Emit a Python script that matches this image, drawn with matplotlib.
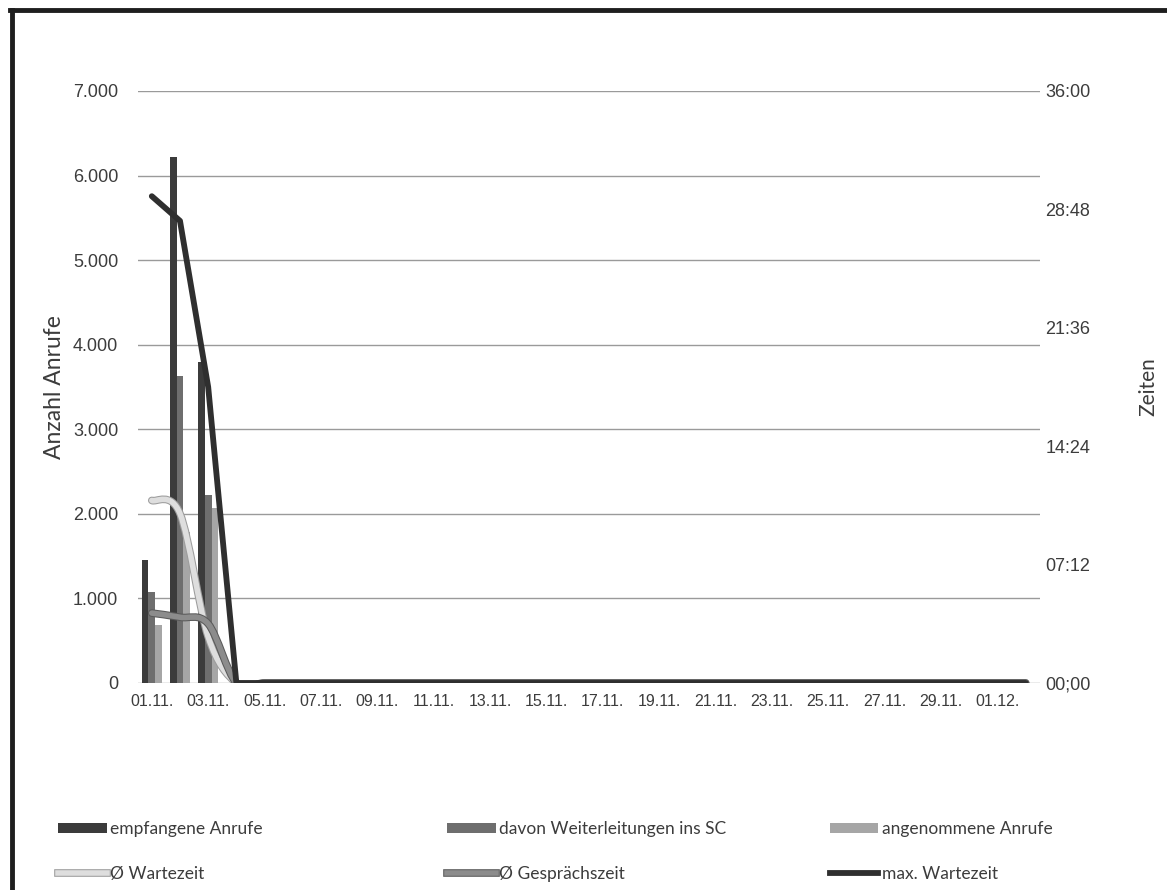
import matplotlib
matplotlib.use("Agg")
import matplotlib.pyplot as plt
import numpy as np
from matplotlib.path import Path
from matplotlib.patches import PathPatch, Patch
from matplotlib.lines import Line2D
import matplotlib.patheffects as pe

# ---- data -------------------------------------------------------------
dates = ["01.11.", "02.11.", "03.11.", "04.11.", "05.11.", "06.11.", "07.11.", "08.11.",
         "09.11.", "10.11.", "11.11.", "12.11.", "13.11.", "14.11.", "15.11.", "16.11.",
         "17.11.", "18.11.", "19.11.", "20.11.", "21.11.", "22.11.", "23.11.", "24.11.",
         "25.11.", "26.11.", "27.11.", "28.11.", "29.11.", "30.11.", "01.12.", "02.12."]

empfangene = [1450, 6220, 3800, 0, 0, 0, 0, 0, 0, 0, 0, 0, 0, 0, 0, 0,
              0, 0, 0, 0, 0, 0, 0, 0, 0, 0, 0, 0, 0, 0, 0, 0]
weiterleitungen = [1070, 3630, 2220, 0, 0, 0, 0, 0, 0, 0, 0, 0, 0, 0, 0, 0,
                   0, 0, 0, 0, 0, 0, 0, 0, 0, 0, 0, 0, 0, 0, 0, 0]
angenommene = [680, 1790, 2070, 0, 0, 0, 0, 0, 0, 0, 0, 0, 0, 0, 0, 0,
               0, 0, 0, 0, 0, 0, 0, 0, 0, 0, 0, 0, 0, 0, 0, 0]

# times in minutes
wartezeit_avg = [11.1, 10.3, 2.8, 0, 0, 0, 0, 0, 0, 0, 0, 0, 0, 0, 0, 0,
                 0, 0, 0, 0, 0, 0, 0, 0, 0, 0, 0, 0, 0, 0, 0, 0]
gespraechszeit_avg = [4.25, 4.0, 3.6, 0, 0, 0, 0, 0, 0, 0, 0, 0, 0, 0, 0, 0,
                      0, 0, 0, 0, 0, 0, 0, 0, 0, 0, 0, 0, 0, 0, 0, 0]
wartezeit_max = [29.6, 28.1, 18.0, 0, 0, 0, 0, 0, 0, 0, 0, 0, 0, 0, 0, 0,
                 0, 0, 0, 0, 0, 0, 0, 0, 0, 0, 0, 0, 0, 0, 0, 0]

left_ticks = [0, 1000, 2000, 3000, 4000, 5000, 6000, 7000]
left_ticklabels = ["0", "1.000", "2.000", "3.000", "4.000", "5.000", "6.000", "7.000"]
right_ticks = [0, 7.2, 14.4, 21.6, 28.8, 36]
right_ticklabels = ["00;00", "07:12", "14:24", "21:36", "28:48", "36:00"]

# ---- styling ----------------------------------------------------------
TICK_FONT = "Liberation Sans"
TEXT_FONT = "Lato"
TXT = "#3c3c3c"

c_empf = "#3b3b3b"
c_weit = "#6e6e6e"
c_ang = "#a6a6a6"
c_wz = "#dedede"
c_gz = "#8c8c8c"
c_max = "#2f2f2f"

fig = plt.figure(figsize=(11.67, 8.90), dpi=100)
ax = fig.add_axes([0.118, 0.2326, 0.773, 0.6652])
ax2 = ax.twinx()

x = np.arange(len(dates))
bw = 0.237
ax.bar(x - bw, empfangene, bw, color=c_empf, zorder=2)
ax.bar(x, weiterleitungen, bw, color=c_weit, zorder=2)
ax.bar(x + bw, angenommene, bw, color=c_ang, zorder=2)

ax.set_xlim(-0.5, len(dates) - 0.5)
ax.set_ylim(0, 7000)
ax.set_yticks(left_ticks)
ax.set_yticklabels(left_ticklabels, fontfamily=TICK_FONT, fontsize=13, color=TXT)
ax.yaxis.grid(True, color="#9a9a9a", lw=1.0, zorder=0)
ax.set_axisbelow(True)
ax.set_xticks(x[::2])
ax.set_xticklabels(dates[::2], fontfamily=TICK_FONT, fontsize=11.5, color=TXT)
ax.tick_params(axis="both", length=0)
ax.tick_params(axis="y", pad=14)
ax.tick_params(axis="x", pad=8)
for s in ax.spines.values():
    s.set_visible(False)
for s in ax2.spines.values():
    s.set_visible(False)
ax.set_ylabel("Anzahl Anrufe", fontfamily=TEXT_FONT, fontsize=16.5, color=TXT, labelpad=6)

ax2.set_ylim(0, 36)
ax2.set_yticks(right_ticks)
ax2.set_yticklabels(right_ticklabels, fontfamily=TICK_FONT, fontsize=13, color=TXT)
ax2.tick_params(axis="y", length=0, pad=4)
ax2.set_ylabel("Zeiten", fontfamily=TEXT_FONT, fontsize=15, color=TXT, labelpad=34)


def smooth_path(xs, ys):
    """Cubic Bezier path through the points (Catmull-Rom style tangents)."""
    pts = np.column_stack([xs, ys]).astype(float)
    n = len(pts)
    verts = [pts[0]]
    codes = [Path.MOVETO]
    for i in range(n - 1):
        p0 = pts[i - 1] if i > 0 else pts[i]
        p1 = pts[i]
        p2 = pts[i + 1]
        p3 = pts[i + 2] if i + 2 < n else pts[i + 1]
        c1 = p1 + (p2 - p0) / 6.0
        c2 = p2 - (p3 - p1) / 6.0
        verts += [c1, c2, p2]
        codes += [Path.CURVE4] * 3
    return Path(verts, codes)


wz_fx = [pe.Stroke(linewidth=5.5, foreground="#9c9c9c"), pe.Normal()]
gz_fx = [pe.Stroke(linewidth=5.5, foreground="#5a5a5a"), pe.Normal()]
wz = PathPatch(smooth_path(x, wartezeit_avg), fill=False, edgecolor=c_wz, lw=4,
               capstyle="round", joinstyle="round", zorder=4, path_effects=wz_fx)
gz = PathPatch(smooth_path(x, gespraechszeit_avg), fill=False, edgecolor=c_gz, lw=4,
               capstyle="round", joinstyle="round", zorder=5, path_effects=gz_fx)
ax2.add_patch(wz)
ax2.add_patch(gz)
ax2.plot(x, wartezeit_max, color=c_max, lw=4.2, solid_capstyle="round",
         solid_joinstyle="round", zorder=6)

# ---- legend -----------------------------------------------------------
row1, row2 = 0.0685, 0.0180
col1, col2, col3 = 0.0497, 0.383, 0.711
entries = [
    (Patch(facecolor=c_empf), "empfangene Anrufe", col1, row1),
    (Patch(facecolor=c_weit), "davon Weiterleitungen ins SC", col2, row1),
    (Patch(facecolor=c_ang), "angenommene Anrufe", col3, row1),
    (Line2D([], [], color=c_wz, lw=4, path_effects=wz_fx), "Ø Wartezeit", col1, row2),
    (Line2D([], [], color=c_gz, lw=4, path_effects=gz_fx), "Ø Gesprächszeit", col2, row2),
    (Line2D([], [], color=c_max, lw=4.2), "max. Wartezeit", col3, row2),
]
for handle, label, lx, ly in entries:
    fig.legend(handles=[handle], labels=[label], loc="center left",
               bbox_to_anchor=(lx, ly), frameon=False, handlelength=2.8,
               handleheight=0.5, handletextpad=0.2, borderaxespad=0, borderpad=0,
               prop={"family": TEXT_FONT, "size": 12.5}, labelcolor=TXT)

# outer chart frame (left and top edges)
fig.add_artist(Line2D([0.0103, 0.0103], [0.0, 0.9888], transform=fig.transFigure,
                      color="#1e1e1e", lw=3.5))
fig.add_artist(Line2D([0.0085, 1.0], [0.9888, 0.9888], transform=fig.transFigure,
                      color="#1e1e1e", lw=3.5))

fig.savefig("out.png", dpi=100, facecolor="white")
